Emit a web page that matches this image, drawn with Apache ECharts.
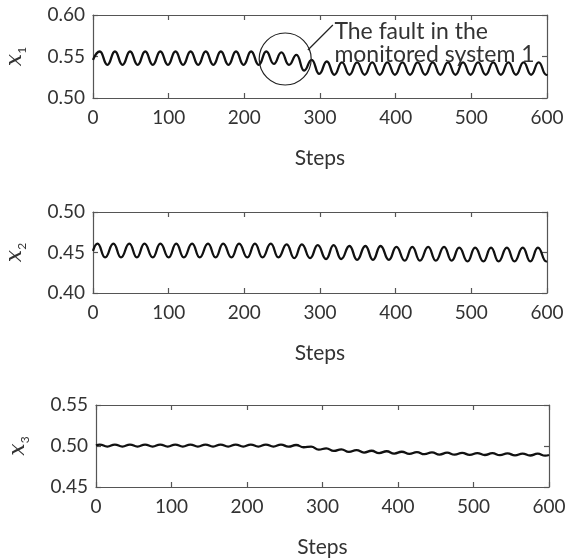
<!DOCTYPE html>
<html>
<head>
<meta charset="utf-8">
<script src="https://cdn.jsdelivr.net/npm/echarts@6/dist/echarts.min.js"></script>
<style>html,body{margin:0;padding:0;background:#fff}#c{width:569px;height:559px}</style>
</head>
<body>
<div id="c"></div>
<script>
// ---- data ----
const xTicks = [0, 100, 200, 300, 400, 500, 600];
const x1Ticks = [0.50, 0.55, 0.60];
const x2Ticks = [0.40, 0.45, 0.50];
const x3Ticks = [0.45, 0.50, 0.55];

const x1Steps = [0,9,19,29,39,49,59,69,79,89,99,109,119,129,139,149,159,169,179,189,199,209,219,229,239,249,259,269,279,289,299,309,319,329,339,349,359,369,379,389,399,409,419,429,439,449,459,469,479,489,499,509,519,529,539,549,559,569,579,589,599,600];
const x1Values = [0.546,0.556,0.540,0.556,0.540,0.556,0.540,0.556,0.540,0.556,0.540,0.556,0.540,0.556,0.540,0.556,0.540,0.556,0.540,0.556,0.540,0.556,0.540,0.556,0.541,0.555,0.540,0.552,0.533,0.546,0.529,0.544,0.528,0.543,0.528,0.543,0.528,0.543,0.528,0.543,0.528,0.543,0.528,0.543,0.528,0.543,0.528,0.543,0.528,0.543,0.528,0.543,0.528,0.543,0.528,0.543,0.528,0.543,0.528,0.543,0.528,0.529];

const x2Steps = [0,6,16,27,37,48,58,68,79,89,100,110,120,131,141,152,162,172,183,193,204,214,224,235,245,256,266,276,287,297,308,318,328,339,349,360,370,380,391,401,412,422,432,443,453,464,474,484,495,505,516,526,536,547,557,568,578,588,599,600];
const x2Values = [0.452,0.461,0.444,0.461,0.444,0.461,0.444,0.461,0.444,0.461,0.444,0.461,0.444,0.461,0.444,0.461,0.444,0.461,0.444,0.461,0.444,0.461,0.444,0.461,0.444,0.460,0.443,0.460,0.443,0.459,0.442,0.459,0.442,0.458,0.441,0.458,0.441,0.458,0.441,0.457,0.440,0.457,0.440,0.457,0.440,0.457,0.440,0.456,0.439,0.456,0.439,0.456,0.439,0.456,0.439,0.456,0.439,0.456,0.439,0.4392];

const x3Steps = [0,5,15,25,35,45,55,65,75,85,95,105,115,125,135,145,155,165,175,185,195,205,215,225,235,245,255,265,275,285,295,305,315,325,335,345,355,365,375,385,395,405,415,425,435,445,455,465,475,485,495,505,515,525,535,545,555,565,575,585,595,600];
const x3Values = [0.5005,0.5017,0.4993,0.5017,0.4993,0.5017,0.4993,0.5017,0.4993,0.5017,0.4993,0.5017,0.4993,0.5017,0.4993,0.5017,0.4993,0.5017,0.4993,0.5017,0.4993,0.5017,0.4993,0.5017,0.4993,0.5017,0.4992,0.5012,0.4985,0.4992,0.4955,0.4972,0.4940,0.4960,0.4928,0.4950,0.4920,0.4942,0.4914,0.4936,0.4908,0.4930,0.4904,0.4926,0.4900,0.4922,0.4896,0.4918,0.4894,0.4916,0.4892,0.4914,0.4890,0.4912,0.4888,0.4910,0.4886,0.4908,0.4884,0.4906,0.4882,0.4890];

const annotationText = 'The fault in the\nmonitored system 1';
const annotationCircleCenter = [254, 0.547];   // data coords (panel 1)
const annotationLineFrom = [284, 0.5578];
const annotationLineTo = [317, 0.5880];
const annotationTextAt = [319, 0.5935];

// ---- chart ----
const FONT = 'Lato';
const TXT = '#333';
const AX = '#555';
const grids = [
  {left: 93, right: 22, top: 15, height: 83, outerBoundsMode: 'none', containLabel: false},
  {left: 93, right: 22, top: 212, height: 81, outerBoundsMode: 'none', containLabel: false},
  {left: 96, right: 20, top: 405, height: 82, outerBoundsMode: 'none', containLabel: false}
];
const yTickSets = [x1Ticks, x2Ticks, x3Ticks];
const subs = ['1', '2', '3'];
const stepsSets = [x1Steps, x2Steps, x3Steps];
const valueSets = [x1Values, x2Values, x3Values];

const xAxes = [], yAxes = [], series = [];
grids.forEach((g, i) => {
  const ax = {
    type: 'value', gridIndex: i, min: xTicks[0], max: xTicks[xTicks.length - 1], interval: 100,
    axisLine: {show: true, onZero: false, lineStyle: {color: AX, width: 1.2}},
    axisTick: {show: true, inside: true, length: 5, lineStyle: {color: AX, width: 1.2}},
    splitLine: {show: false}
  };
  xAxes.push(Object.assign({}, ax, {
    position: 'bottom',
    name: 'Steps', nameLocation: 'middle', nameGap: 50,
    nameTextStyle: {fontFamily: FONT, fontSize: 21, color: TXT},
    axisLabel: {show: true, margin: 10, fontFamily: FONT, fontSize: 19, color: TXT}
  }));
  xAxes.push(Object.assign({}, ax, {position: 'top', axisLabel: {show: false}}));
  const t = yTickSets[i];
  const ay = {
    type: 'value', gridIndex: i, min: t[0], max: t[2], interval: 0.05,
    axisLine: {show: true, onZero: false, lineStyle: {color: AX, width: 1.2}},
    axisTick: {show: true, inside: true, length: 5, lineStyle: {color: AX, width: 1.2}},
    splitLine: {show: false}
  };
  yAxes.push(Object.assign({}, ay, {
    position: 'left',
    name: '{x|x}{s|' + subs[i] + '}', nameLocation: 'middle', nameGap: 65, nameRotate: 90,
    nameTextStyle: {
      color: TXT,
      rich: {
        x: {fontFamily: 'DejaVu Serif', fontStyle: 'italic', fontSize: 22, color: TXT, lineHeight: 26},
        s: {fontFamily: FONT, fontSize: 12, color: TXT, verticalAlign: 'bottom', lineHeight: 20}
      }
    },
    axisLabel: {show: true, margin: 8, fontFamily: FONT, fontSize: 19, color: TXT,
      formatter: v => v.toFixed(2)}
  }));
  yAxes.push(Object.assign({}, ay, {position: 'right', axisLabel: {show: false}}));
  series.push({
    type: 'line', xAxisIndex: i * 2, yAxisIndex: i * 2,
    data: stepsSets[i].map((s, k) => [s, valueSets[i][k]]),
    showSymbol: false, smooth: 0.5, smoothMonotone: 'x',
    lineStyle: {color: '#111', width: 2.3}, silent: true, animation: false
  });
});

const chart = echarts.init(document.getElementById('c'), null, {renderer: 'canvas'});
chart.setOption({
  animation: false,
  grid: grids,
  xAxis: xAxes,
  yAxis: yAxes,
  series: series
});

const toPx = p => chart.convertToPixel({xAxisIndex: 0, yAxisIndex: 0}, p);
const c0 = toPx(annotationCircleCenter);
const l0 = toPx(annotationLineFrom);
const l1 = toPx(annotationLineTo);
const tp = toPx(annotationTextAt);
chart.setOption({
  graphic: [
    {type: 'circle', shape: {cx: c0[0], cy: c0[1], r: 26}, style: {fill: 'none', stroke: '#222', lineWidth: 1.2}, z: 100},
    {type: 'line', shape: {x1: l0[0], y1: l0[1], x2: l1[0], y2: l1[1]}, style: {stroke: '#222', lineWidth: 1.2}, z: 100},
    {type: 'text', x: tp[0], y: tp[1], style: {text: annotationText, fontFamily: FONT, fontSize: 23, fill: TXT, lineHeight: 23, textAlign: 'left', textVerticalAlign: 'top'}, z: 100}
  ]
});
</script>
</body>
</html>
